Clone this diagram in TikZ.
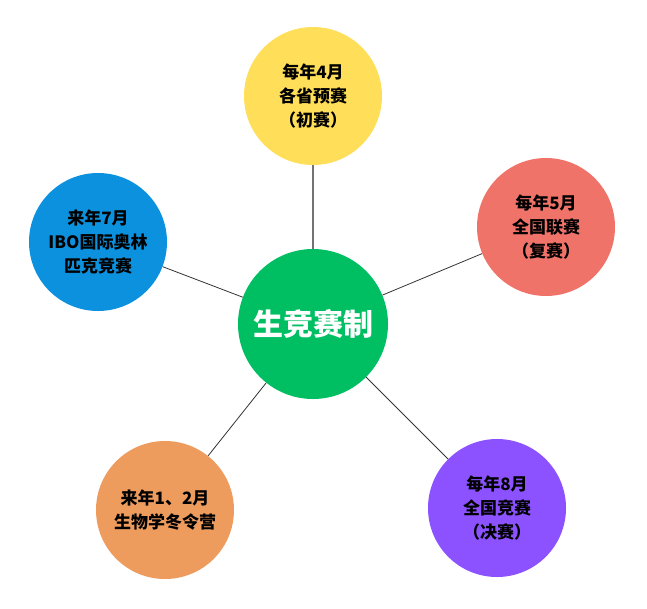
\documentclass[tikz,border=0pt]{standalone}
\usepackage{fontspec}
\setmainfont{Noto Sans CJK SC}
\usetikzlibrary{positioning}
\definecolor{hubgreen}{HTML}{00BF63}
\definecolor{stageyellow}{HTML}{FFDE59}
\definecolor{stagered}{HTML}{F0736A}
\definecolor{stageblue}{HTML}{0C91DF}
\definecolor{stageorange}{HTML}{EE9B5E}
\definecolor{stagepurple}{HTML}{8C52FF}

\begin{document}
\begin{tikzpicture}[x=1pt,y=-1pt,
    stage/.style={circle,minimum size=138pt,inner sep=0pt,align=center,
      font=\fontsize{17}{24}\selectfont\bfseries,text=black},
    hub/.style={circle,minimum size=150pt,inner sep=0pt,fill=hubgreen,
      text=white,font=\fontsize{30}{36}\selectfont\bfseries},
    spoke/.style={draw=black!80,line width=0.8pt}]
    \useasboundingbox (0,0) rectangle (647,608);
    \node[hub] (core) at (313,324) {生竞赛制};
    \node[stage,fill=stageyellow] (prelim) at (313,96) {每年4月\\各省预赛\\（初赛）};
    \node[stage,fill=stagered] (league) at (546,227) {每年5月\\全国联赛\\（复赛）};
    \node[stage,fill=stageblue] (ibo) at (98,242) {来年7月\\IBO国际奥林\\匹克竞赛};
    \node[stage,fill=stageorange] (camp) at (165,510) {来年1、2月\\生物学冬令营};
    \node[stage,fill=stagepurple] (final) at (497,508) {每年8月\\全国竞赛\\（决赛）};
    \draw[spoke,draw=black!55,line width=1.6pt] (prelim) -- (core);
    \draw[spoke]
    (core) edge (league)
    (core) edge (ibo)
    (core) edge (camp)
    (core) edge (final);
  \end{tikzpicture}
\end{document}
